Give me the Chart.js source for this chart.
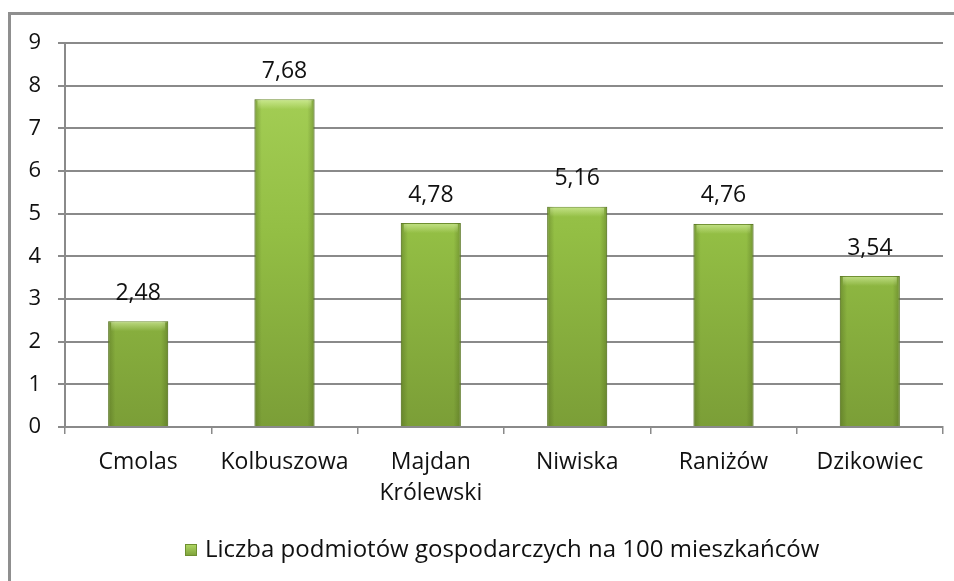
<!DOCTYPE html>
<html>
<head>
<meta charset="utf-8">
<script src="https://cdn.jsdelivr.net/npm/chart.js@4/dist/chart.umd.min.js"></script>
<style>
  html, body { margin: 0; padding: 0; background: #fff; overflow: hidden; }
  #wrap { position: absolute; left: 0; top: 0; width: 954px; height: 581px; }
</style>
</head>
<body>
<div id="wrap"><canvas id="chart" width="954" height="581"></canvas></div>
<script>
// ── Data ──────────────────────────────────────────────
const categories = ["Cmolas", "Kolbuszowa", ["Majdan", "Królewski"], "Niwiska", "Raniżów", "Dzikowiec"];
const values = [2.48, 7.68, 4.78, 5.16, 4.76, 3.54];
const seriesName = "Liczba podmiotów gospodarczych na 100 mieszkańców";
const yTicks = [0, 1, 2, 3, 4, 5, 6, 7, 8, 9];

const FONT = "'Open Sans', Lato, sans-serif";
const GRID = "#8a8a8a";

// bar fill: light green on top fading to olive at the bottom
function barFill(ctx) {
  const chart = ctx.chart;
  const area = chart.chartArea;
  if (!area) return "#94c047";
  const el = ctx.element;
  const top = el && el.y != null ? el.y : area.top;
  const g = chart.ctx.createLinearGradient(0, top, 0, area.bottom);
  g.addColorStop(0, "#a9d35a");
  g.addColorStop(0.5, "#93be44");
  g.addColorStop(1, "#7b9e37");
  return g;
}

// grey frame round the chart, partly off the page like the original
const framePlugin = {
  id: "frame",
  beforeDraw(chart) {
    const c = chart.ctx;
    c.save();
    c.strokeStyle = "#8f8f8f";
    c.lineWidth = 3;
    c.strokeRect(9.5, 13.5, 1000, 1000);
    c.restore();
  }
};

// darker side edges on each bar, a rough take on the bevel look
const bevel = {
  id: "bevel",
  afterDatasetsDraw(chart) {
    const c = chart.ctx;
    chart.getDatasetMeta(0).data.forEach(bar => {
      const w = bar.width, left = bar.x - w / 2, top = bar.y, h = bar.base - bar.y;
      c.save();
      const g = c.createLinearGradient(left, 0, left + w, 0);
      g.addColorStop(0, "rgba(60,80,20,0.35)");
      g.addColorStop(0.12, "rgba(60,80,20,0)");
      g.addColorStop(0.88, "rgba(60,80,20,0)");
      g.addColorStop(1, "rgba(60,80,20,0.35)");
      c.fillStyle = g;
      c.fillRect(left, top, w, h);
      const t = c.createLinearGradient(0, top, 0, top + 10);
      t.addColorStop(0, "rgba(235,255,190,0.55)");
      t.addColorStop(1, "rgba(235,255,190,0)");
      c.fillStyle = t;
      c.fillRect(left + 3, top + 1, w - 6, 10);
      c.restore();
    });
  }
};

// value labels above the bars, Polish decimal comma
const valueLabels = {
  id: "valueLabels",
  afterDatasetsDraw(chart) {
    const c = chart.ctx;
    const meta = chart.getDatasetMeta(0);
    c.save();
    c.font = "23px " + FONT;
    c.fillStyle = "#111";
    c.textAlign = "center";
    c.textBaseline = "middle";
    meta.data.forEach((bar, i) => {
      c.fillText(values[i].toFixed(2).replace(".", ","), bar.x, bar.y - 28);
    });
    c.restore();
  }
};

// legend drawn by hand: the original is centred on a wider (cropped) chart
const legendBox = {
  id: "legendBox",
  afterDraw(chart) {
    const c = chart.ctx;
    const x = 185, y = 550;
    c.save();
    const g = c.createLinearGradient(0, y - 6, 0, y + 6);
    g.addColorStop(0, "#b2da66");
    g.addColorStop(1, "#7c9f38");
    c.fillStyle = g;
    c.fillRect(x, y - 6, 12, 12);
    c.strokeStyle = "#6e8f30";
    c.lineWidth = 1;
    c.strokeRect(x + 0.5, y - 5.5, 11, 11);
    c.font = "24px " + FONT;
    c.fillStyle = "#111";
    c.textAlign = "left";
    c.textBaseline = "middle";
    c.fillText(chart.data.datasets[0].label, x + 20, y);
    c.restore();
  }
};

new Chart(document.getElementById("chart"), {
  type: "bar",
  data: {
    labels: categories,
    datasets: [{
      label: seriesName,
      data: values,
      backgroundColor: barFill,
      borderColor: "#6e8f30",
      borderWidth: 1,
      categoryPercentage: 1,
      barPercentage: 0.41
    }]
  },
  options: {
    responsive: false,
    animation: false,
    devicePixelRatio: 1,
    layout: { padding: { left: 0, right: 11, top: 43, bottom: 51 } },
    plugins: {
      legend: { display: false },
      tooltip: { enabled: false }
    },
    scales: {
      x: {
        grid: {
          offset: true,
          drawOnChartArea: false,
          color: GRID,
          lineWidth: 1.5,
          tickLength: 7
        },
        border: { color: GRID, width: 2 },
        ticks: {
          color: "#111",
          font: { family: FONT, size: 23, lineHeight: 1.35 },
          padding: 13,
          maxRotation: 0,
          autoSkip: false
        },
        afterFit(scale) { scale.height = 103; }
      },
      y: {
        min: 0,
        max: 9,
        afterBuildTicks(scale) { scale.ticks = yTicks.map(v => ({ value: v })); },
        grid: {
          color: GRID,
          lineWidth: 2,
          tickLength: 7
        },
        border: { color: GRID, width: 2 },
        ticks: {
          color: "#111",
          font: { family: FONT, size: 22 },
          padding: 17
        },
        afterFit(scale) { scale.width = 65; }
      }
    }
  },
  plugins: [framePlugin, bevel, valueLabels, legendBox]
});
</script>
</body>
</html>
